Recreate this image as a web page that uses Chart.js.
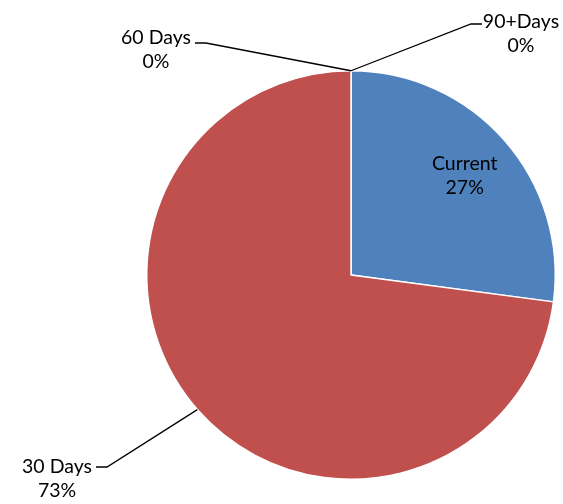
<!DOCTYPE html>
<html>
<head>
<meta charset="utf-8">
<script src="https://cdn.jsdelivr.net/npm/chart.js@4.4.1/dist/chart.umd.min.js"></script>
<style>
  html, body { margin: 0; padding: 0; background: #ffffff; }
  #wrap { width: 563px; height: 504px; position: relative; }
</style>
</head>
<body>
<div id="wrap"><canvas id="agingChart"></canvas></div>
<script>
const categories = ["Current", "30 Days", "60 Days", "90+Days"];
const amounts = [27.1, 72.9, 0, 0];
const percentLabels = ["27%", "73%", "0%", "0%"];
const sliceColors = ["#4F81BD", "#C0504D", "#9BBB59", "#8064A2"];

// where each label text sits (layout only); inside labels sit along the slice mid-angle
const labelLayout = [
  { inside: true, radiusFrac: 0.74 },
  { textX: 57, textY: 467, elbowX: 107, elbowY: 467, lineEndX: 96, align: "center" },
  { textX: 156, textY: 38, elbowX: 206, elbowY: 43, lineEndX: 195, align: "center" },
  { textX: 521, textY: 22, elbowX: 471, elbowY: 24, lineEndX: 482, align: "center" },
];

const labelFont = "19.5px Lato, 'Open Sans', sans-serif";
const lineGap = 24;

const pieLabels = {
  id: "pieLabels",
  afterDatasetsDraw(chart) {
    const ctx = chart.ctx;
    const meta = chart.getDatasetMeta(0);
    ctx.save();
    ctx.font = labelFont;
    ctx.fillStyle = "#000000";
    ctx.textBaseline = "middle";
    meta.data.forEach((arc, i) => {
      const cfg = labelLayout[i];
      const mid = (arc.startAngle + arc.endAngle) / 2;
      if (cfg.inside) {
        const r = arc.outerRadius * cfg.radiusFrac;
        const x = arc.x + Math.cos(mid) * r;
        const y = arc.y + Math.sin(mid) * r;
        ctx.textAlign = "center";
        ctx.fillText(categories[i], x, y - lineGap / 2);
        ctx.fillText(percentLabels[i], x, y + lineGap / 2);
        return;
      }
      const ax = arc.x + Math.cos(mid) * arc.outerRadius;
      const ay = arc.y + Math.sin(mid) * arc.outerRadius;
      ctx.strokeStyle = "#000000";
      ctx.lineWidth = 1.3;
      ctx.beginPath();
      ctx.moveTo(ax, ay);
      ctx.lineTo(cfg.elbowX, cfg.elbowY);
      ctx.lineTo(cfg.lineEndX, cfg.elbowY);
      ctx.stroke();
      ctx.textAlign = cfg.align;
      ctx.fillText(categories[i], cfg.textX, cfg.textY);
      ctx.fillText(percentLabels[i], cfg.textX, cfg.textY + lineGap);
    });
    ctx.restore();
  },
};

new Chart(document.getElementById("agingChart"), {
  type: "pie",
  data: {
    labels: categories,
    datasets: [
      {
        data: amounts,
        backgroundColor: sliceColors,
        borderColor: "#ffffff",
        borderWidth: 1.5,
      },
    ],
  },
  options: {
    responsive: true,
    maintainAspectRatio: false,
    animation: false,
    layout: { padding: { top: 70, bottom: 24, left: 146, right: 7 } },
    plugins: {
      legend: { display: false },
      tooltip: { enabled: false },
    },
  },
  plugins: [pieLabels],
});
</script>
</body>
</html>
